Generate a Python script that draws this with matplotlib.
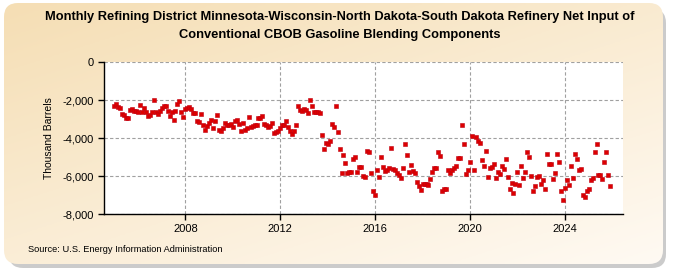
import numpy as np
import matplotlib
matplotlib.use("Agg")
import matplotlib.pyplot as plt
from matplotlib.patches import FancyBboxPatch
from matplotlib.ticker import FuncFormatter

# monthly values, thousand barrels, Jan 2005 .. Dec 2025
v2005 = [-2320, -2230, -2390, -2400, -2730, -2790, -2930, -2960, -2500, -2450, -2600, -2600]
v2006 = [-2620, -2260, -2620, -2400, -2620, -2850, -2780, -2640, -1980, -2610, -2750, -2560]
v2007 = [-2400, -2300, -2330, -2560, -2820, -2640, -3040, -2560, -2190, -2050, -2610, -2920]
v2008 = [-2470, -2430, -2380, -2470, -2710, -2680, -3100, -3170, -2730, -3300, -3600, -3370]
v2009 = [-3200, -3060, -3480, -3080, -2780, -3600, -3650, -3480, -3200, -3340, -3300, -3270]
v2010 = [-3440, -3130, -3030, -3270, -3650, -3230, -3600, -3480, -2920, -3440, -3370, -3340]
v2011 = [-3340, -2960, -2960, -2820, -3270, -3300, -3440, -3370, -3200, -3760, -3690, -3620]
v2012 = [-3480, -3340, -3300, -3100, -3440, -3620, -3790, -3650, -3340, -2330, -2540, -2570]
v2013 = [-2470, -2500, -2710, -1980, -2300, -2610, -2640, -2640, -2710, -3830, -4560, -4280]
v2014 = [-4310, -4140, -3270, -3410, -2330, -3690, -4600, -5840, -4880, -5320, -5840, -5800]
v2015 = [-5800, -5110, -5010, -5800, -5530, -5530, -5990, -6060, -4670, -4730, -5820, -6800]
v2016 = [-6980, -5670, -6040, -4980, -5530, -5750, -5670, -5600, -4550, -5640, -5710, -5820]
v2017 = [-5930, -6110, -5600, -4330, -4870, -5780, -5420, -5750, -5860, -6330, -6550, -6730]
v2018 = [-6440, -6440, -6440, -6480, -6150, -5780, -5600, -5600, -4730, -4950, -6770, -6690]
v2019 = [-6690, -5670, -5820, -5670, -5600, -5460, -5060, -5060, -3340, -4330, -5890, -5710]
v2020 = [-5240, -3890, -5670, -3960, -4180, -4250, -5160, -5490, -4690, -6040, -5560, -5530]
v2021 = [-5350, -6110, -5780, -5890, -5490, -5640, -5130, -6040, -6660, -6370, -6910, -6440]
v2022 = [-5780, -6480, -5490, -6110, -5780, -4730, -5020, -6000, -6800, -6510, -6040, -6000]
v2023 = [-6440, -6220, -6690, -4840, -5350, -5350, -6150, -5860, -4840, -5240, -6770, -7240]
v2024 = [-6620, -6220, -6480, -5490, -6110, -4840, -5090, -5710, -5640, -7020, -7090, -6800]
v2025 = [-6690, -6220, -6110, -4760, -4330, -5930, -5930, -6150, -5280, -4730, -5930, -6550]

yearly = [v2005, v2006, v2007, v2008, v2009, v2010, v2011, v2012, v2013, v2014, v2015,
          v2016, v2017, v2018, v2019, v2020, v2021, v2022, v2023, v2024, v2025]
start_year = 2005

y_ticks = [0, -2000, -4000, -6000, -8000]
x_ticks = [2008, 2012, 2016, 2020, 2024]

values = np.concatenate(yearly)
months = np.arange(len(values))
x = start_year + months / 12.0

W, H = 675, 275
fig = plt.figure(figsize=(W / 100, H / 100), dpi=100)

# ── background: shadow + beige gradient rounded box ─────────────────
bg = fig.add_axes([0, 0, 1, 1])
bg.set_xlim(0, W)
bg.set_ylim(H, 0)
bg.axis("off")

shadow = FancyBboxPatch((9, 9), W - 18, H - 16, boxstyle="round,pad=0,rounding_size=14",
                        facecolor="#a9a9a9", edgecolor="none", alpha=0.6)
bg.add_patch(shadow)
box = FancyBboxPatch((4, 3), W - 16, H - 14, boxstyle="round,pad=0,rounding_size=14",
                     facecolor="none", edgecolor="none")
bg.add_patch(box)

gx, gy = np.meshgrid(np.linspace(0, 1, 200), np.linspace(0, 1, 100))
t = np.clip(0.55 * gy + 0.45 * gx, 0, 1)
top = np.array([245, 222, 180]) / 255
bot = np.array([255, 250, 243]) / 255
grad = top[None, None, :] * (1 - t[..., None]) + bot[None, None, :] * t[..., None]
im = bg.imshow(grad, extent=(4, W - 12, H - 11, 3), aspect="auto", zorder=1)
im.set_clip_path(box)

# ── main plot ───────────────────────────────────────────────────────
ax = fig.add_axes([104 / W, 1 - 214 / H, (623 - 104) / W, (214 - 62) / H])
ax.set_facecolor("white")
ax.plot(x, values, linestyle="none", marker="s", markersize=3.0,
        markerfacecolor="#dd0000", markeredgecolor="#c00010", markeredgewidth=0.4,
        zorder=3)

ax.set_xlim(2004.57, 2026.45)
ax.set_ylim(-8000, 0)
ax.set_yticks(y_ticks)
ax.set_xticks(x_ticks)
ax.yaxis.set_major_formatter(FuncFormatter(lambda v, p: f"{int(v):,}"))
ax.grid(True, color="#a0a0a0", linestyle=(0, (3, 2)), linewidth=0.8)
ax.set_axisbelow(True)
for s in ["top", "right"]:
    ax.spines[s].set_visible(False)
for s in ["left", "bottom"]:
    ax.spines[s].set_linewidth(1.0)
    ax.spines[s].set_color("black")

font = ["Liberation Sans", "DejaVu Sans"]
ax.tick_params(axis="both", length=4, width=1, labelsize=8)
for lab in ax.get_xticklabels() + ax.get_yticklabels():
    lab.set_family(font)
ax.set_ylabel("Thousand Barrels", fontsize=7.5, family=font, labelpad=6)

fig.text(340 / W, 1 - 17 / H,
         "Monthly Refining District Minnesota-Wisconsin-North Dakota-South Dakota Refinery Net Input of",
         ha="center", va="center", fontsize=9.3, fontweight="bold", family=font)
fig.text(340 / W, 1 - 35 / H, "Conventional CBOB Gasoline Blending Components",
         ha="center", va="center", fontsize=9.3, fontweight="bold", family=font)
fig.text(28 / W, 1 - 249 / H, "Source: U.S. Energy Information Administration",
         ha="left", va="center", fontsize=6.7, family=font)

fig.savefig("out.png", dpi=100)
